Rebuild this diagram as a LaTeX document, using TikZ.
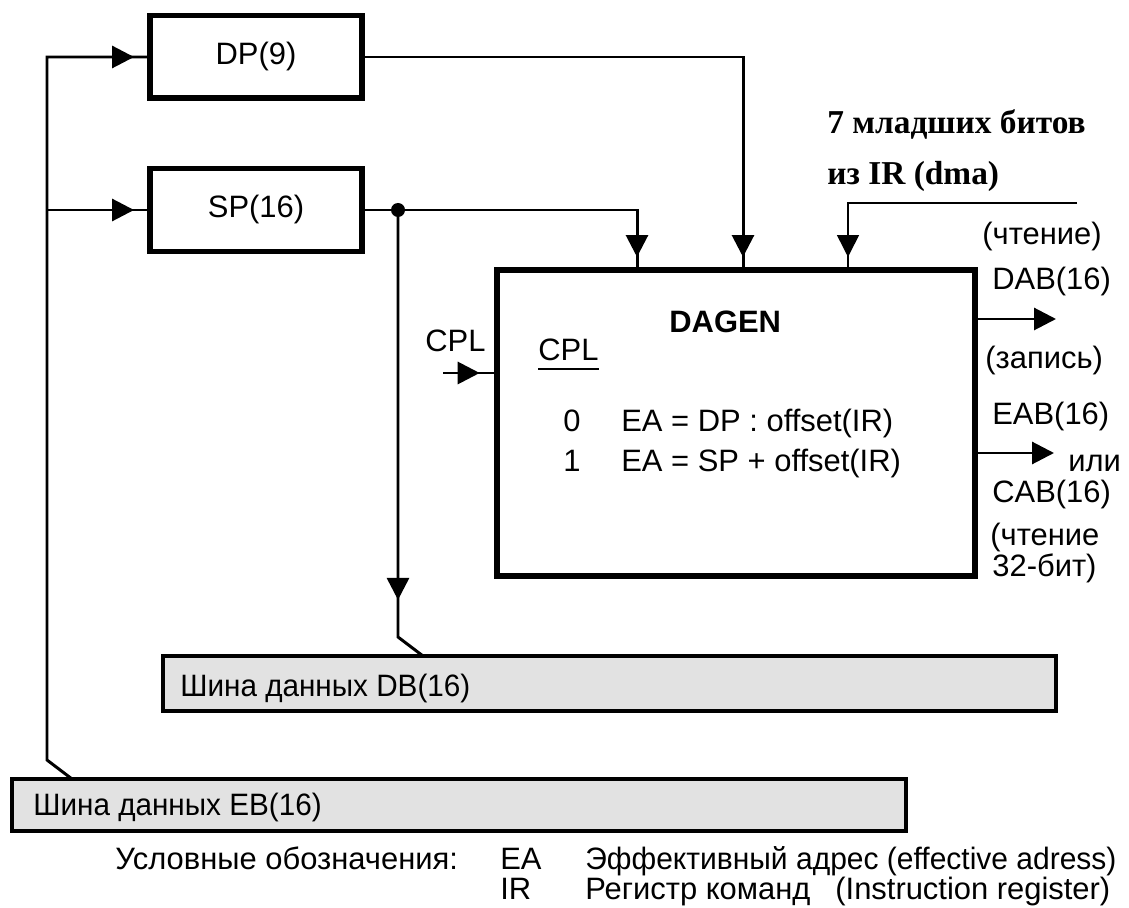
\documentclass[tikz,border=0pt]{standalone}
\usepackage{fontspec}
\setmainfont{Liberation Sans}
\newfontfamily\irfont{Liberation Serif}
\usepackage{xcolor}
\definecolor{busgray}{RGB}{226,226,226}
\usetikzlibrary{arrows.meta,decorations.markings}

\begin{document}
\begin{tikzpicture}[x=0.02cm,y=-0.02cm,
  font=\fontsize{17.6}{21}\selectfont,
  wire/.style={line width=1.7pt},
  thinwire/.style={line width=0.9pt},
  intip/.style={postaction={decorate},decoration={markings,
    mark=at position #1 with {\arrow{Triangle[length=0.44cm,width=0.44cm]}}}},
  intip/.default=-0.26cm,
  outtip/.style={-{Triangle[length=0.44cm,width=0.44cm]}},
  reg/.style={draw,line width=3.4pt,minimum width=4.24cm,minimum height=1.66cm,inner sep=0pt},
  bus/.style={draw,line width=2.2pt,fill=busgray,inner sep=0pt},
  lbl/.style={anchor=base west,inner sep=0pt}]
  \useasboundingbox (0,0) rectangle (1129,908);
  % registers
  \node[reg] (dp) at (256,57) {DP(9)};
  \node[reg] (sp) at (256,210) {SP(16)};
  % DAGEN block
  \node[draw,line width=3.8pt,minimum width=9.56cm,minimum height=6.12cm] (dagen) at (736,423) {};
  % buses
  \node[bus,minimum width=17.86cm,minimum height=1.1cm] (db) at (609.5,683.5) {};
  \node[bus,minimum width=17.88cm,minimum height=1.04cm] (eb) at (459,805) {};
  \node[lbl] (dbtxt) at (180,696) {\scalebox{0.96}[1]{Шина данных DB(16)}};
  \node[lbl] (ebtxt) at (33,815) {\scalebox{0.96}[1]{Шина данных EB(16)}};
  % points on the lines
  \coordinate (dot) at (398,210);
  \coordinate (dbbend) at (398,637);
  \coordinate (dbtap) at (423,656);
  \coordinate (ebbend) at (47,760);
  \coordinate (ebtap) at (72,779);
  \coordinate (inSP) at (637,270);
  \coordinate (inDP) at (743,270);
  \coordinate (inIR) at (848,270);
  \coordinate (irsrc) at (1077,203);
  \coordinate (cplin) at (443,373);
  \coordinate (dabout) at (1056,319);
  \coordinate (eabout) at (1054,453);
  % EB -> DP, SP
  \draw[wire,intip] (ebtap) -- (ebbend) |- (dp.west); %EB-DP
  \draw[wire,intip] (ebbend |- sp.west) -- (sp.west); %EB-SP
  % DP, SP, IR -> DAGEN
  \draw[wire,intip] (dp.east) -| (inDP); %DP
  \draw[wire] (sp.east) -- (dot);
  \draw[wire,intip] (dot) -| (inSP); %SP
  \draw[thinwire,intip] (irsrc) -| (inIR); %IR
  \fill (dot) circle (0.14cm);
  % SP -> DB
  \draw[wire,intip=-1.37cm] (dot) -- (dbbend) -- (dbtap);
  % CPL and outputs
  \draw[wire,intip=-0.28cm] (cplin) -- (cplin -| dagen.west);
  \draw[wire,outtip] (dagen.east |- dabout) -- (dabout);
  \draw[wire,outtip] (dagen.east |- eabout) -- (eabout);
  % texts in DAGEN
  \node[lbl,font=\fontsize{17.6}{21}\selectfont\bfseries] (dgname) at (669,333) {DAGEN};
  \node[lbl] (cplhead) at (538,361) {CPL};
  \draw[line width=1.7pt] (cplhead.base west) ++(0,8) coordinate (ul) -- (ul -| cplhead.east);
  \node[lbl] (zero) at (563,432) {0};
  \node[lbl] (eadp) at (621,432) {EA = DP : offset(IR)};
  \node[lbl] (one) at (563,472) {1};
  \node[lbl] (easp) at (621,472) {EA = SP + offset(IR)};
  \node[lbl] (cplout) at (425,352) {CPL};
  % right side
  \node[lbl] (rd1) at (982,245) {(чтение)};
  \node[lbl] (dab) at (992,290) {DAB(16)};
  \node[lbl] (wr) at (985,369) {(запись)};
  \node[lbl] (eab) at (992,425) {EAB(16)};
  \node[lbl] (ili) at (1068,472) {или};
  \node[lbl] (cab) at (992,502) {CAB(16)};
  \node[lbl] (rd2) at (990,545) {(чтение};
  \node[lbl] (bit) at (992,577) {32-бит)};
  % IR bits
  \node[lbl,font=\fontsize{19}{22}\irfont\bfseries] (irbits) at (827,134) {7 младших битов};
  \node[lbl,font=\fontsize{19}{22}\irfont\bfseries] (irfrom) at (827,185) {из IR (dma)};
  % legend
  \node[lbl] (leg) at (115,869) {Условные обозначения:};
  \node[lbl] (lgea) at (500,869) {EA};
  \node[lbl] (lgeat) at (585,869) {\scalebox{0.97}[1]{Эффективный адрес (effective adress)}};
  \node[lbl] (lgir) at (500,899) {IR};
  \node[lbl] (lgirt) at (585,899) {Регистр команд};
  \node[lbl] (lgirx) at (835,899) {(Instruction register)};
\end{tikzpicture}
\end{document}
